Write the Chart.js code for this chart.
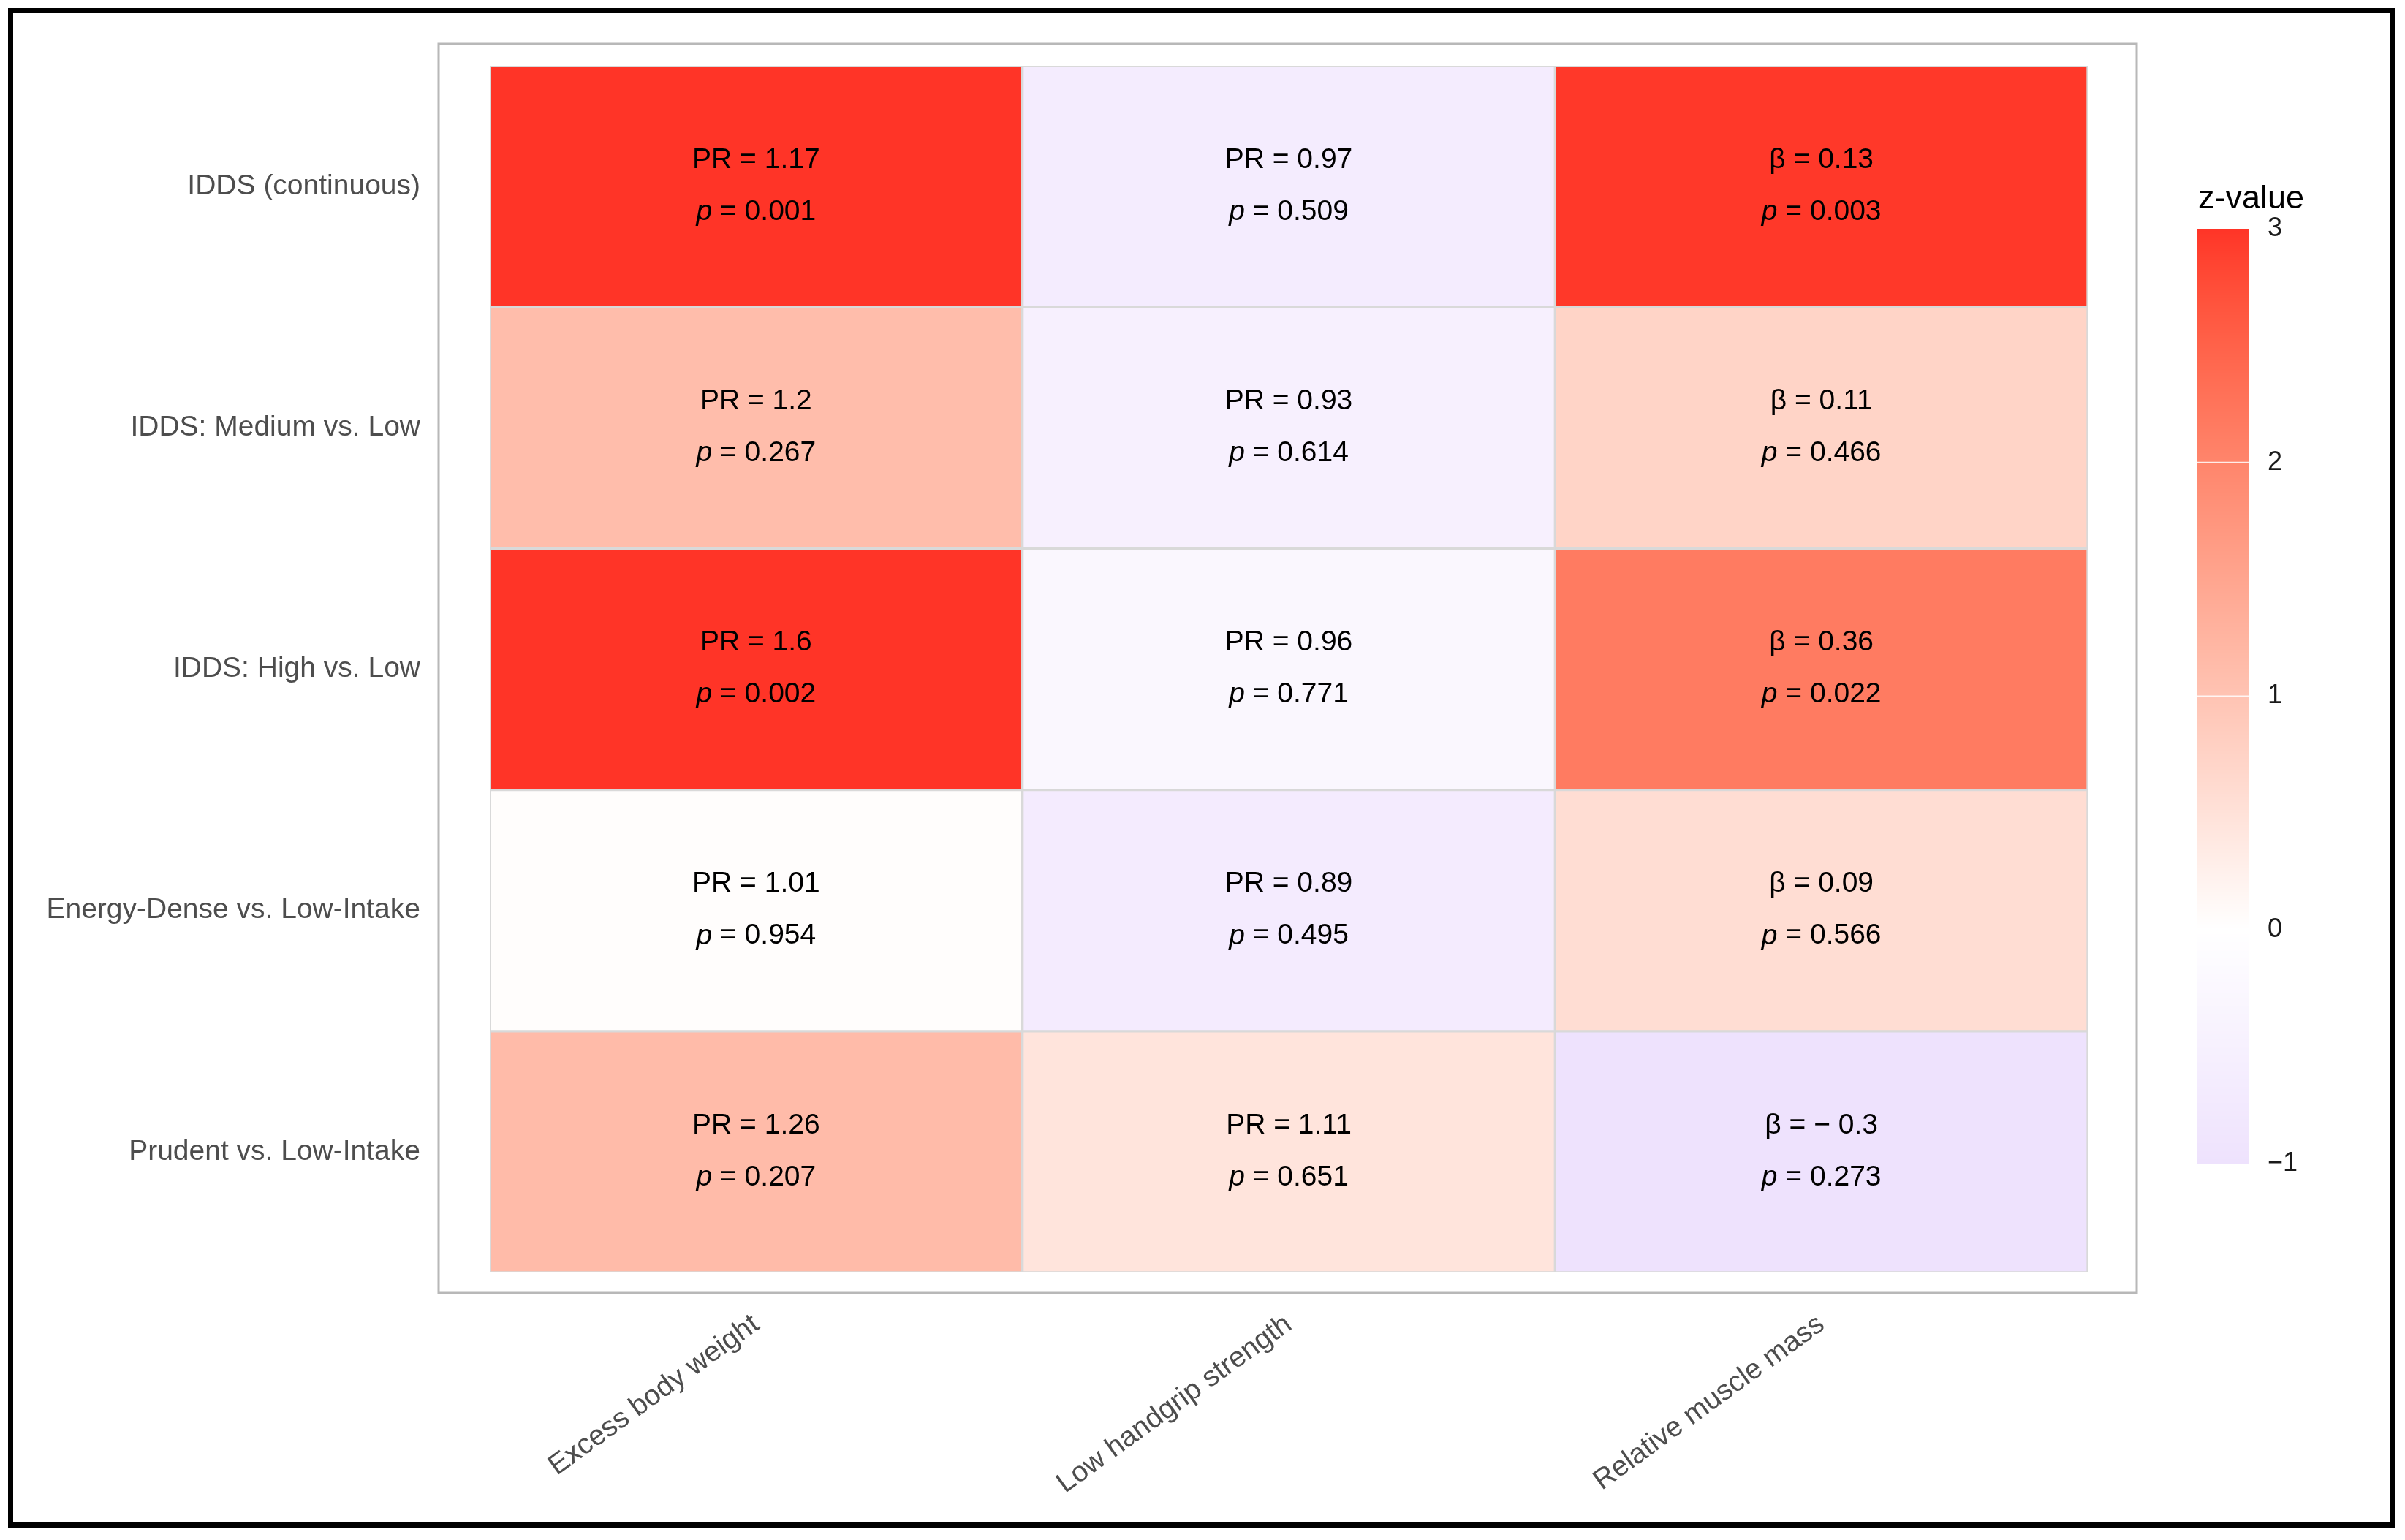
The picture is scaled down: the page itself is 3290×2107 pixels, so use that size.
<!DOCTYPE html>
<html>
<head>
<meta charset="utf-8">
<script src="https://cdn.jsdelivr.net/npm/chart.js@4.4.1/dist/chart.umd.min.js"></script>
<style>
  html, body { margin: 0; padding: 0; background: #fff; }
  #heat { display: block; }
</style>
</head>
<body>
<canvas id="heat" width="3290" height="2107" style="width:3290px;height:2107px"></canvas>
<script>
const rowLabels = ['IDDS (continuous)', 'IDDS: Medium vs. Low', 'IDDS: High vs. Low', 'Energy-Dense vs. Low-Intake', 'Prudent vs. Low-Intake'];
const colLabels = ['Excess body weight', 'Low handgrip strength', 'Relative muscle mass'];
const estPrefix = ['PR', 'PR', '\u03b2'];

// estimates, top row first
const excessEst = ['1.17', '1.2', '1.6', '1.01', '1.26'];
const handgripEst = ['0.97', '0.93', '0.96', '0.89', '1.11'];
const muscleEst = ['0.13', '0.11', '0.36', '0.09', '\u2212 0.3'];

const excessP = ['0.001', '0.267', '0.002', '0.954', '0.207'];
const handgripP = ['0.509', '0.614', '0.771', '0.495', '0.651'];
const muscleP = ['0.003', '0.466', '0.022', '0.566', '0.273'];

// z-values (fill colour)
const excessZ = [3.3, 1.11, 3.09, 0.04, 1.14];
const handgripZ = [-0.66, -0.5, -0.29, -0.68, 0.45];
const muscleZ = [2.97, 0.73, 2.15, 0.57, -1.1];

const legendTicks = [3, 2, 1, 0, -1];

const estimates = [excessEst, handgripEst, muscleEst];
const pvals = [excessP, handgripP, muscleP];
const zvals = [excessZ, handgripZ, muscleZ];

const FONT = '"Liberation Sans", Arial, sans-serif';
const HIGH = '#FF3427';
const LOW = '#EEE2FD';   // colour at z = -1

// --- Lab interpolation, like ggplot's gradient
function hexToRgb(h) {
  return [parseInt(h.slice(1, 3), 16), parseInt(h.slice(3, 5), 16), parseInt(h.slice(5, 7), 16)];
}
function toLab(hex) {
  const lin = hexToRgb(hex).map(c => { c /= 255; return c <= 0.04045 ? c / 12.92 : Math.pow((c + 0.055) / 1.055, 2.4); });
  const [r, g, b] = lin;
  let X = (0.4124564 * r + 0.3575761 * g + 0.1804375 * b) / 0.95047;
  let Y = 0.2126729 * r + 0.7151522 * g + 0.0721750 * b;
  let Z = (0.0193339 * r + 0.1191920 * g + 0.9503041 * b) / 1.08883;
  const f = t => t > 0.008856 ? Math.cbrt(t) : 7.787 * t + 16 / 116;
  const fx = f(X), fy = f(Y), fz = f(Z);
  return [116 * fy - 16, 500 * (fx - fy), 200 * (fy - fz)];
}
function fromLab(L, a, b) {
  const fy = (L + 16) / 116, fx = fy + a / 500, fz = fy - b / 200;
  const inv = t => t * t * t > 0.008856 ? t * t * t : (t - 16 / 116) / 7.787;
  const X = inv(fx) * 0.95047, Y = inv(fy), Z = inv(fz) * 1.08883;
  const lin = [
    3.2404542 * X - 1.5371385 * Y - 0.4985314 * Z,
    -0.9692660 * X + 1.8760108 * Y + 0.0415560 * Z,
    0.0556434 * X - 0.2040259 * Y + 1.0572252 * Z
  ];
  const rgb = lin.map(c => {
    c = c <= 0.0031308 ? 12.92 * c : 1.055 * Math.pow(c, 1 / 2.4) - 0.055;
    return Math.round(Math.max(0, Math.min(1, c)) * 255);
  });
  return 'rgb(' + rgb.join(',') + ')';
}
const labW = toLab('#FFFFFF'), labH = toLab(HIGH), labL = toLab(LOW);
function zColor(z) {
  z = Math.max(-1, Math.min(3, z));
  const target = z >= 0 ? labH : labL;
  const t = z >= 0 ? z / 3 : -z;
  return fromLab(labW[0] + (target[0] - labW[0]) * t, labW[1] + (target[1] - labW[1]) * t, labW[2] + (target[2] - labW[2]) * t);
}

// text inside each tile
const cellText = {
  id: 'cellText',
  afterDatasetsDraw(chart) {
    const ctx = chart.ctx;
    ctx.save();
    ctx.fillStyle = '#000';
    ctx.textBaseline = 'middle';
    const normal = '39px ' + FONT, ital = 'italic 39px ' + FONT;
    chart.data.datasets.forEach((ds, ci) => {
      chart.getDatasetMeta(ci).data.forEach((bar, ri) => {
        const c = bar.getCenterPoint();
        ctx.font = normal;
        ctx.textAlign = 'center';
        ctx.fillText(estPrefix[ci] + ' = ' + estimates[ci][ri], c.x, c.y - 36);
        const rest = ' = ' + pvals[ci][ri];
        ctx.font = ital;
        const wp = ctx.measureText('p').width;
        ctx.font = normal;
        const wr = ctx.measureText(rest).width;
        const x0 = c.x - (wp + wr) / 2;
        ctx.textAlign = 'left';
        ctx.font = ital;
        ctx.fillText('p', x0, c.y + 35);
        ctx.font = normal;
        ctx.fillText(rest, x0 + wp, c.y + 35);
      });
    });
    ctx.restore();
  }
};

// gray panel box + black outer frame
const frames = {
  id: 'frames',
  beforeDraw(chart) {
    const ctx = chart.ctx, a = chart.chartArea;
    ctx.save();
    ctx.fillStyle = '#fff';
    ctx.fillRect(0, 0, chart.width, chart.height);
    ctx.strokeStyle = '#b8b8b8';
    ctx.lineWidth = 3;
    ctx.strokeRect(a.left - 70, a.top - 30, a.right - a.left + 137, a.bottom - a.top + 58);
    ctx.restore();
  },
  afterDraw(chart) {
    const ctx = chart.ctx;
    ctx.save();
    ctx.strokeStyle = '#000';
    ctx.lineWidth = 7;
    ctx.strokeRect(14.5, 14.5, chart.width - 32, chart.height - 35);
    ctx.restore();
  }
};

// colour bar legend
const colorBar = {
  id: 'colorBar',
  afterDraw(chart) {
    const ctx = chart.ctx, a = chart.chartArea;
    const left = a.right + 149, w = 72, top = a.top + 223, bottom = a.bottom - 149;
    const zTop = legendTicks[0], zBot = legendTicks[legendTicks.length - 1];
    const yOf = z => top + (zTop - z) / (zTop - zBot) * (bottom - top);
    ctx.save();
    for (let y = top; y < bottom; y++) {
      const z = zTop - (y + 0.5 - top) / (bottom - top) * (zTop - zBot);
      ctx.fillStyle = zColor(z);
      ctx.fillRect(left, y, w, 1.5);
    }
    ctx.strokeStyle = 'rgba(255,255,255,0.85)';
    ctx.lineWidth = 2;
    ctx.fillStyle = '#1a1a1a';
    ctx.font = '36px ' + FONT;
    ctx.textAlign = 'left';
    ctx.textBaseline = 'middle';
    legendTicks.forEach(t => {
      const y = yOf(t);
      if (t < zTop && t > zBot) {
        ctx.beginPath();
        ctx.moveTo(left, y);
        ctx.lineTo(left + w, y);
        ctx.stroke();
      }
      ctx.fillText(t < 0 ? '\u2212' + Math.abs(t) : String(t), left + 97, y);
    });
    ctx.fillStyle = '#000';
    ctx.font = '45px ' + FONT;
    ctx.textBaseline = 'alphabetic';
    ctx.fillText('z-value', left + 2, top - 28);
    ctx.restore();
  }
};

new Chart(document.getElementById('heat'), {
  type: 'bar',
  data: {
    labels: rowLabels,
    datasets: colLabels.map((name, ci) => ({
      label: name,
      data: rowLabels.map(() => [ci, ci + 1]),
      backgroundColor: zvals[ci].map(zColor),
      borderColor: '#d9d9d9',
      borderWidth: 2,
      borderSkipped: false,
      barPercentage: 1,
      categoryPercentage: 1,
      grouped: false
    }))
  },
  options: {
    indexAxis: 'y',
    responsive: false,
    devicePixelRatio: 1,
    animation: false,
    layout: { padding: { left: 0, top: 90, right: 434, bottom: 0 } },
    scales: {
      x: {
        type: 'linear',
        position: 'bottom',
        min: 0,
        max: 3,
        grid: { display: false },
        border: { display: false },
        afterBuildTicks: (s) => { s.ticks = colLabels.map((_, i) => ({ value: i + 0.5 })); },
        afterFit: (s) => { s.height = 366; s.paddingLeft = 0; s.paddingRight = 0; },
        ticks: {
          autoSkip: false,
          minRotation: 36,
          maxRotation: 36,
          padding: 40,
          color: '#4d4d4d',
          font: { family: FONT, size: 39 },
          callback: (v, i) => colLabels[i]
        }
      },
      y: {
        type: 'category',
        offset: true,
        grid: { display: false, drawTicks: false },
        border: { display: false },
        afterFit: (s) => { s.width = 670; s.paddingTop = 0; s.paddingBottom = 0; },
        ticks: {
          padding: 95,
          color: '#4d4d4d',
          font: { family: FONT, size: 39 }
        }
      }
    },
    plugins: {
      legend: { display: false },
      tooltip: { enabled: false }
    }
  },
  plugins: [frames, cellText, colorBar]
});
</script>
</body>
</html>
